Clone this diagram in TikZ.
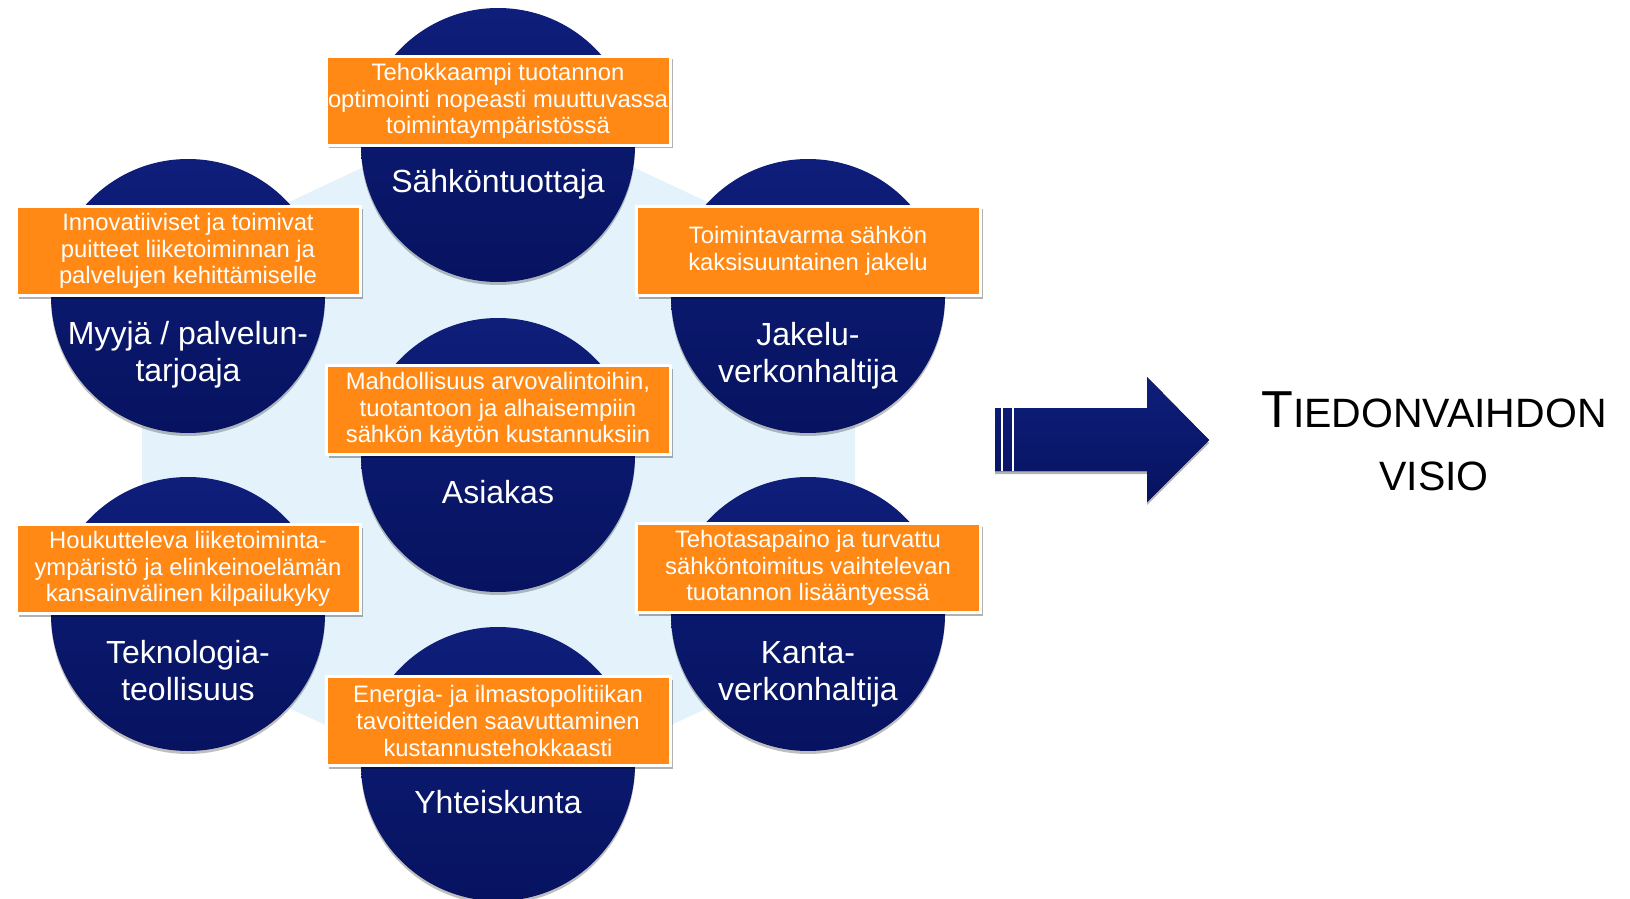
\documentclass[tikz,border=0pt]{standalone}
\usepackage{fontspec}
\setmainfont{Liberation Sans}
\usetikzlibrary{shadows}
\definecolor{navytop}{RGB}{14,30,122}
\definecolor{navybot}{RGB}{7,19,96}
\definecolor{goalorange}{RGB}{255,137,20}
\definecolor{hexblue}{RGB}{228,242,251}
\tikzset{
  actor/.style={circle, minimum size=137pt, inner sep=0pt, top color=navytop, bottom color=navybot, drop shadow={shadow xshift=0pt, shadow yshift=-1.5pt, opacity=.25, fill=black}},
  actorname/.style={anchor=base, align=center, text=white, inner sep=0pt, font=\fontsize{16}{18.5}\selectfont},
  goalbox/.style={draw=white, line width=1.5pt, fill=goalorange, minimum width=172pt, minimum height=44.5pt, inner sep=0pt, align=center, text=white, font=\fontsize{11.9}{13.4}\selectfont, drop shadow={shadow xshift=1.5pt, shadow yshift=-1.5pt, opacity=.3, fill=black}},
  visio/.style={anchor=base, align=center, inner sep=0pt, font=\fontsize{20.5}{31.5}\selectfont}
}

\begin{document}
\begin{tikzpicture}[x=0.5pt, y=-0.5pt]
\useasboundingbox (0,0) rectangle (1630,899);
\fill[hexblue] (498,104) -- (855,271) -- (855,639) -- (498,806) -- (142,639) -- (142,271) -- cycle;
\node[actor] (prod) at (498,145) {};
\node[actor] (seller) at (188,296) {};
\node[actor] (dso) at (808,296) {};
\node[actor] (cust) at (498,455) {};
\node[actor] (tech) at (188,614) {};
\node[actor] (tso) at (808,614) {};
\node[actor] (soc) at (498,764) {};
\node[actorname] (prodname) at (498,193) {Sähköntuottaja};
\node[actorname] (sellername) at (188,381) {Myyjä / palvelun-\\tarjoaja};
\node[actorname] (dsoname) at (808,382) {Jakelu-\\verkonhaltija};
\node[actorname] (custname) at (498,503) {Asiakas};
\node[actorname] (techname) at (188,700) {Teknologia-\\teollisuus};
\node[actorname] (tsoname) at (808,700) {Kanta-\\verkonhaltija};
\node[actorname] (socname) at (498,813) {Yhteiskunta};
\node[goalbox] (prodgoal) at (498,101) {Tehokkaampi tuotannon\\optimointi nopeasti muuttuvassa\\toimintaympäristössä};
\node[goalbox] (sellergoal) at (188,251) {Innovatiiviset ja toimivat\\puitteet liiketoiminnan ja\\palvelujen kehittämiselle};
\node[goalbox] (dsogoal) at (808,251) {Toimintavarma sähkön\\kaksisuuntainen jakelu};
\node[goalbox] (custgoal) at (498,410) {Mahdollisuus arvovalintoihin,\\tuotantoon ja alhaisempiin\\sähkön käytön kustannuksiin};
\node[goalbox] (techgoal) at (188,569) {Houkutteleva liiketoiminta-\\ympäristö ja elinkeinoelämän\\kansainvälinen kilpailukyky};
\node[goalbox] (tsogoal) at (808,568) {Tehotasapaino ja turvattu\\sähköntoimitus vaihtelevan\\tuotannon lisääntyessä};
\node[goalbox] (socgoal) at (498,721) {Energia- ja ilmastopolitiikan\\tavoitteiden saavuttaminen\\kustannustehokkaasti};
\fill[top color=navytop, bottom color=navybot, drop shadow={shadow xshift=0pt, shadow yshift=-1.5pt, opacity=.3, fill=black}] (995,408) -- (1147,408) -- (1147,377) -- (1209,440) -- (1147,502) -- (1147,471) -- (995,471) -- cycle;
\draw[white, line width=0.8pt] (1002,408) -- (1002,471) (1013,408) -- (1013,471);
\node[visio] (title) at (1434,490) {{\fontsize{26}{31.5}\selectfont T}IEDONVAIHDON\\VISIO};
\end{tikzpicture}
\end{document}
